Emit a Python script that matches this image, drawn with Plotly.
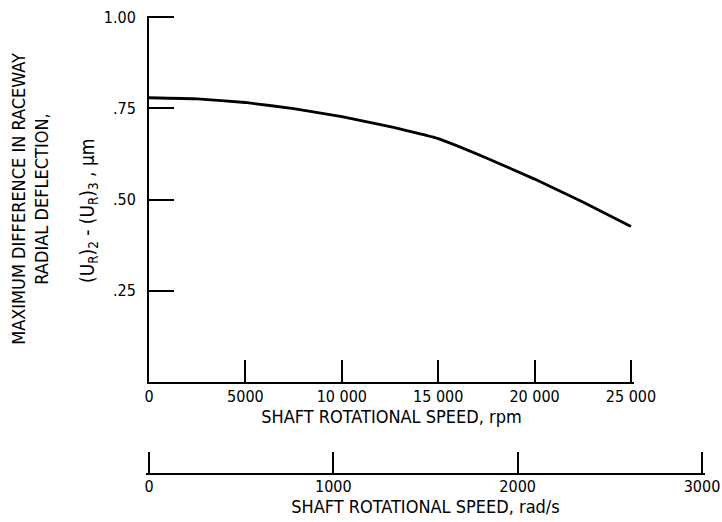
import plotly.graph_objects as go

# Data
speed_rpm = [0, 2500, 5000, 7500, 10000, 12500, 15000, 17500, 20000, 22500, 25000]
deflection_um = [0.779, 0.776, 0.766, 0.749, 0.727, 0.700, 0.667, 0.614, 0.556, 0.493, 0.426]

rpm_ticks = [0, 5000, 10000, 15000, 20000, 25000]
rpm_labels = ["0", "5000", "10 000", "15 000", "20 000", "25 000"]
rad_ticks = [0, 1000, 2000, 3000]
rad_labels = ["0", "1000", "2000", "3000"]
y_ticks = [0.25, 0.50, 0.75, 1.00]
y_labels = [".25", ".50", ".75", "1.00"]

FONT = "DejaVu Sans Condensed, Liberation Sans Narrow, Arial Narrow, sans-serif"

W, H = 722, 522
pad = 3  # small extension so Plotly keeps the end ticks
ml, mr, mt, mb = 149 - pad, 20 - pad, 16, 48
pw, ph = W - ml - mr, H - mt - mb
x0_px, x_end_px = 149, 631
rad_end_px = 702
y_bottom_px = 382

rpm_per_px = rpm_ticks[-1] / (x_end_px - x0_px)
rad_per_px = rad_ticks[-1] / (rad_end_px - x0_px)

fig = go.Figure()
fig.add_trace(go.Scatter(
    x=speed_rpm, y=deflection_um, mode="lines",
    line=dict(color="black", width=2.8, shape="spline", smoothing=0.3),
    hoverinfo="skip", showlegend=False))
# invisible trace that creates the rad/s axis
fig.add_trace(go.Scatter(x=[rad_ticks[0], rad_ticks[-1]], y=[0, 0], xaxis="x2", yaxis="y",
                         mode="markers", marker=dict(opacity=0), hoverinfo="skip", showlegend=False))

fig.update_layout(
    width=W, height=H,
    margin=dict(l=ml, r=mr, t=mt, b=mb),
    paper_bgcolor="white", plot_bgcolor="rgba(0,0,0,0)",
    font=dict(family=FONT, size=16, color="black"),
    xaxis=dict(
        domain=[(x0_px - ml) / pw, (x_end_px + pad - ml) / pw],
        range=[0, rpm_ticks[-1] + pad * rpm_per_px],
        tickmode="array", tickvals=rpm_ticks, ticktext=rpm_labels,
        ticks="inside", ticklen=22, tickwidth=2, tickcolor="black",
        showline=True, linecolor="black", linewidth=1.5,
        showgrid=False, zeroline=False, anchor="y", automargin=False,
        title=dict(text="SHAFT ROTATIONAL SPEED, rpm", standoff=0, font=dict(size=18)),
        ticklabelstandoff=-1,
    ),
    xaxis2=dict(
        domain=[0, 1],
        range=[-pad * rad_per_px, rad_ticks[-1] + pad * rad_per_px],
        anchor="free", position=0,
        tickmode="array", tickvals=rad_ticks, ticktext=rad_labels,
        ticks="inside", ticklen=21, tickwidth=2, tickcolor="black",
        showline=True, linecolor="black", linewidth=1.5,
        showgrid=False, zeroline=False, automargin=False,
        ticklabelstandoff=-2,
        title=dict(text="SHAFT ROTATIONAL SPEED, rad/s", standoff=0, font=dict(size=18)),
    ),
    yaxis=dict(
        domain=[(H - mb - y_bottom_px) / ph, 1], range=[0, 1.003],
        tickmode="array", tickvals=y_ticks, ticktext=y_labels,
        ticks="inside", ticklen=25, tickwidth=2, tickcolor="black",
        showline=True, linecolor="black", linewidth=2,
        showgrid=False, zeroline=False, anchor="x", automargin=False,
        ticklabelstandoff=8,
        title=dict(text="MAXIMUM DIFFERENCE IN RACEWAY<br>RADIAL DEFLECTION,", standoff=50, font=dict(size=18)),
    ),
    annotations=[dict(
        text="(U<sub>R</sub>)<sub>2</sub> - (U<sub>R</sub>)<sub>3</sub> , μm",
        xref="paper", yref="paper", x=(x0_px - ml) / pw, xshift=-61,
        y=(1 + (H - mb - y_bottom_px) / ph) / 2, yshift=-12,
        xanchor="center", yanchor="middle", textangle=-90, showarrow=False,
        font=dict(size=19, family=FONT))],
)

fig.write_html("out.html", config={"displayModeBar": False},
               post_script="document.body.style.margin='0';document.body.style.overflow='hidden';")
